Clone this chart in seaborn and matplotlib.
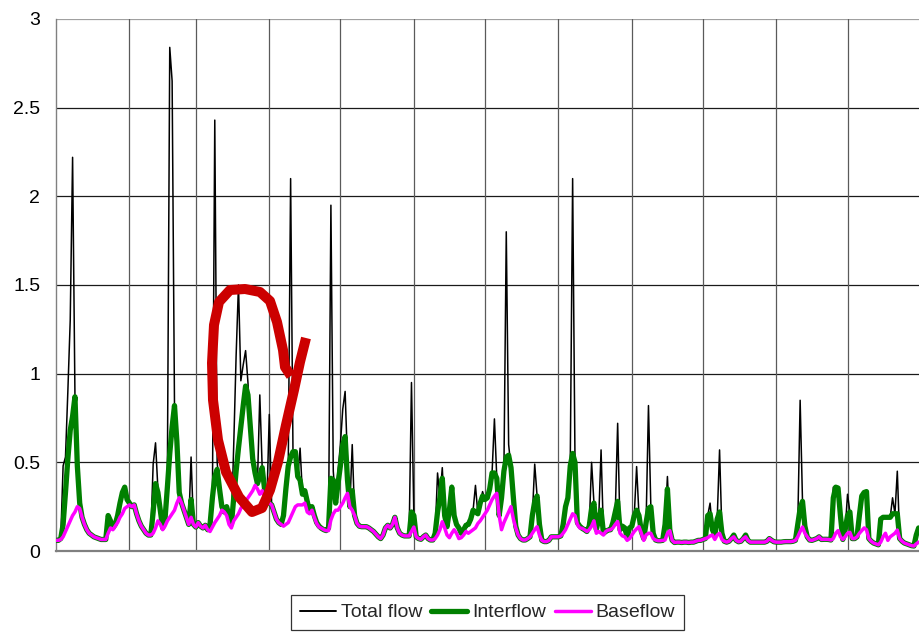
import matplotlib
matplotlib.use("Agg")
import matplotlib.pyplot as plt
import matplotlib.dates as mdates
from matplotlib.lines import Line2D
import numpy as np
import pandas as pd
import seaborn as sns

# ---------------- data (daily values) ----------------
dates = pd.date_range("2001-01-01", periods=365, freq="D")

total_flow = [
    0.06, 0.06, 0.07, 0.48, 0.53, 0.90, 1.30, 2.22, 0.87, 0.48,
    0.27, 0.19, 0.15, 0.12, 0.10, 0.09, 0.08, 0.075, 0.07, 0.065,
    0.065, 0.065, 0.20, 0.17, 0.13, 0.15, 0.20, 0.27, 0.33, 0.36,
    0.29, 0.27, 0.25, 0.26, 0.21, 0.17, 0.14, 0.12, 0.10, 0.09,
    0.09, 0.49, 0.61, 0.35, 0.23, 0.13, 0.18, 0.45, 2.84, 2.65,
    0.82, 0.62, 0.33, 0.27, 0.23, 0.19, 0.15, 0.53, 0.15, 0.135,
    0.16, 0.14, 0.13, 0.145, 0.12, 0.15, 0.30, 2.43, 0.50, 0.35,
    0.25, 0.22, 0.25, 0.20, 0.15, 0.60, 1.10, 1.50, 0.96, 1.05,
    1.13, 0.95, 0.70, 0.52, 0.44, 0.38, 0.88, 0.47, 0.35, 0.29,
    0.77, 0.26, 0.22, 0.18, 0.16, 0.15, 0.20, 0.35, 0.48, 2.10,
    0.56, 0.56, 0.42, 0.58, 0.32, 0.34, 0.28, 0.22, 0.25, 0.20,
    0.16, 0.14, 0.128, 0.12, 0.115, 0.13, 1.95, 0.45, 0.27, 0.45,
    0.60, 0.80, 0.90, 0.50, 0.25, 0.60, 0.20, 0.156, 0.14, 0.137,
    0.137, 0.137, 0.13, 0.12, 0.11, 0.095, 0.08, 0.07, 0.09, 0.13,
    0.145, 0.13, 0.15, 0.19, 0.13, 0.10, 0.09, 0.085, 0.085, 0.085,
    0.95, 0.20, 0.08, 0.07, 0.066, 0.08, 0.09, 0.07, 0.062, 0.062,
    0.10, 0.44, 0.30, 0.47, 0.20, 0.137, 0.23, 0.37, 0.20, 0.15,
    0.13, 0.10, 0.12, 0.145, 0.15, 0.18, 0.23, 0.37, 0.21, 0.27,
    0.335, 0.29, 0.30, 0.35, 0.44, 0.745, 0.41, 0.20, 0.30, 0.45,
    1.80, 0.60, 0.47, 0.30, 0.14, 0.09, 0.07, 0.062, 0.062, 0.07,
    0.08, 0.20, 0.49, 0.31, 0.15, 0.06, 0.053, 0.053, 0.06, 0.08,
    0.08, 0.08, 0.08, 0.085, 0.15, 0.25, 0.30, 0.50, 2.10, 0.50,
    0.16, 0.14, 0.128, 0.12, 0.11, 0.14, 0.50, 0.27, 0.12, 0.18,
    0.57, 0.10, 0.11, 0.118, 0.12, 0.16, 0.22, 0.72, 0.12, 0.14,
    0.13, 0.08, 0.13, 0.14, 0.20, 0.476, 0.20, 0.11, 0.07, 0.16,
    0.82, 0.25, 0.10, 0.062, 0.058, 0.058, 0.06, 0.15, 0.42, 0.12,
    0.06, 0.048, 0.05, 0.05, 0.048, 0.05, 0.05, 0.048, 0.05, 0.05,
    0.055, 0.06, 0.06, 0.065, 0.07, 0.20, 0.27, 0.12, 0.09, 0.18,
    0.57, 0.10, 0.055, 0.05, 0.055, 0.07, 0.09, 0.06, 0.052, 0.055,
    0.07, 0.09, 0.06, 0.05, 0.05, 0.05, 0.05, 0.05, 0.05, 0.05,
    0.055, 0.07, 0.06, 0.052, 0.05, 0.05, 0.05, 0.052, 0.053, 0.053,
    0.053, 0.055, 0.06, 0.15, 0.85, 0.28, 0.14, 0.08, 0.062, 0.06,
    0.065, 0.07, 0.08, 0.065, 0.066, 0.066, 0.065, 0.062, 0.36, 0.36,
    0.355, 0.20, 0.065, 0.12, 0.32, 0.22, 0.07, 0.07, 0.08, 0.20,
    0.32, 0.33, 0.335, 0.07, 0.055, 0.045, 0.04, 0.035, 0.18, 0.19,
    0.19, 0.19, 0.19, 0.30, 0.21, 0.45, 0.07, 0.055, 0.045, 0.04,
    0.035, 0.03, 0.028, 0.09, 0.13,
]

interflow = [
    0.06, 0.06, 0.07, 0.15, 0.33, 0.52, 0.68, 0.76, 0.87, 0.48,
    0.27, 0.19, 0.15, 0.12, 0.10, 0.09, 0.08, 0.075, 0.07, 0.065,
    0.065, 0.065, 0.20, 0.17, 0.13, 0.15, 0.20, 0.27, 0.33, 0.36,
    0.29, 0.27, 0.25, 0.26, 0.21, 0.17, 0.14, 0.12, 0.10, 0.09,
    0.09, 0.22, 0.38, 0.33, 0.23, 0.13, 0.18, 0.36, 0.55, 0.70,
    0.82, 0.62, 0.33, 0.27, 0.23, 0.19, 0.15, 0.29, 0.15, 0.135,
    0.16, 0.14, 0.13, 0.145, 0.12, 0.15, 0.30, 0.42, 0.46, 0.35,
    0.25, 0.22, 0.25, 0.20, 0.15, 0.30, 0.45, 0.58, 0.70, 0.82,
    0.93, 0.88, 0.70, 0.52, 0.44, 0.38, 0.42, 0.47, 0.35, 0.29,
    0.27, 0.26, 0.22, 0.18, 0.16, 0.15, 0.20, 0.35, 0.48, 0.53,
    0.56, 0.56, 0.42, 0.40, 0.32, 0.34, 0.28, 0.22, 0.25, 0.20,
    0.16, 0.14, 0.128, 0.12, 0.115, 0.13, 0.41, 0.40, 0.27, 0.38,
    0.48, 0.60, 0.645, 0.40, 0.25, 0.34, 0.20, 0.156, 0.14, 0.137,
    0.137, 0.137, 0.13, 0.12, 0.11, 0.095, 0.08, 0.07, 0.09, 0.13,
    0.145, 0.13, 0.15, 0.19, 0.13, 0.10, 0.09, 0.085, 0.085, 0.085,
    0.22, 0.20, 0.08, 0.07, 0.066, 0.08, 0.09, 0.07, 0.062, 0.062,
    0.10, 0.22, 0.30, 0.41, 0.20, 0.137, 0.23, 0.36, 0.20, 0.15,
    0.13, 0.10, 0.12, 0.145, 0.15, 0.18, 0.23, 0.22, 0.21, 0.27,
    0.31, 0.29, 0.30, 0.35, 0.44, 0.44, 0.41, 0.20, 0.30, 0.45,
    0.53, 0.54, 0.47, 0.30, 0.14, 0.09, 0.07, 0.062, 0.062, 0.07,
    0.08, 0.20, 0.28, 0.31, 0.15, 0.06, 0.053, 0.053, 0.06, 0.08,
    0.08, 0.08, 0.08, 0.085, 0.15, 0.25, 0.30, 0.48, 0.55, 0.50,
    0.16, 0.14, 0.128, 0.12, 0.11, 0.14, 0.24, 0.27, 0.12, 0.18,
    0.23, 0.10, 0.11, 0.118, 0.12, 0.16, 0.22, 0.28, 0.12, 0.14,
    0.13, 0.08, 0.13, 0.14, 0.20, 0.23, 0.20, 0.11, 0.07, 0.16,
    0.24, 0.25, 0.10, 0.062, 0.058, 0.058, 0.06, 0.15, 0.35, 0.12,
    0.06, 0.048, 0.05, 0.05, 0.048, 0.05, 0.05, 0.048, 0.05, 0.05,
    0.055, 0.06, 0.06, 0.065, 0.07, 0.20, 0.21, 0.12, 0.09, 0.18,
    0.22, 0.10, 0.055, 0.05, 0.055, 0.07, 0.09, 0.06, 0.052, 0.055,
    0.07, 0.09, 0.06, 0.05, 0.05, 0.05, 0.05, 0.05, 0.05, 0.05,
    0.055, 0.07, 0.06, 0.052, 0.05, 0.05, 0.05, 0.052, 0.053, 0.053,
    0.053, 0.055, 0.06, 0.15, 0.24, 0.28, 0.14, 0.08, 0.062, 0.06,
    0.065, 0.07, 0.08, 0.065, 0.066, 0.066, 0.065, 0.062, 0.30, 0.36,
    0.355, 0.20, 0.065, 0.12, 0.20, 0.22, 0.07, 0.07, 0.08, 0.20,
    0.31, 0.33, 0.335, 0.07, 0.055, 0.045, 0.04, 0.035, 0.18, 0.19,
    0.19, 0.19, 0.19, 0.21, 0.21, 0.21, 0.07, 0.055, 0.045, 0.04,
    0.035, 0.03, 0.028, 0.09, 0.13,
]

baseflow = [
    0.06, 0.06, 0.065, 0.08, 0.11, 0.14, 0.17, 0.20, 0.22, 0.25,
    0.24, 0.19, 0.15, 0.12, 0.10, 0.09, 0.08, 0.075, 0.07, 0.065,
    0.065, 0.065, 0.10, 0.13, 0.12, 0.14, 0.16, 0.19, 0.21, 0.24,
    0.25, 0.26, 0.25, 0.26, 0.21, 0.17, 0.14, 0.12, 0.10, 0.09,
    0.09, 0.10, 0.13, 0.17, 0.15, 0.12, 0.14, 0.17, 0.19, 0.21,
    0.23, 0.27, 0.30, 0.27, 0.23, 0.19, 0.15, 0.19, 0.15, 0.135,
    0.16, 0.14, 0.13, 0.145, 0.12, 0.11, 0.135, 0.16, 0.18, 0.20,
    0.23, 0.22, 0.20, 0.15, 0.13, 0.17, 0.19, 0.21, 0.24, 0.26,
    0.28, 0.30, 0.32, 0.34, 0.37, 0.35, 0.32, 0.34, 0.30, 0.28,
    0.27, 0.26, 0.22, 0.18, 0.16, 0.15, 0.14, 0.15, 0.16, 0.19,
    0.22, 0.25, 0.26, 0.26, 0.26, 0.27, 0.22, 0.21, 0.23, 0.19,
    0.155, 0.135, 0.128, 0.12, 0.115, 0.115, 0.175, 0.21, 0.23, 0.23,
    0.25, 0.27, 0.30, 0.325, 0.25, 0.23, 0.20, 0.156, 0.14, 0.137,
    0.137, 0.137, 0.13, 0.12, 0.11, 0.095, 0.08, 0.07, 0.09, 0.13,
    0.145, 0.13, 0.15, 0.19, 0.13, 0.10, 0.09, 0.085, 0.085, 0.085,
    0.11, 0.135, 0.08, 0.07, 0.066, 0.08, 0.09, 0.07, 0.062, 0.062,
    0.07, 0.09, 0.12, 0.165, 0.13, 0.09, 0.075, 0.10, 0.12, 0.10,
    0.07, 0.075, 0.09, 0.11, 0.10, 0.11, 0.12, 0.13, 0.155, 0.17,
    0.19, 0.21, 0.23, 0.26, 0.29, 0.31, 0.325, 0.20, 0.12, 0.16,
    0.19, 0.22, 0.25, 0.18, 0.13, 0.09, 0.07, 0.062, 0.062, 0.07,
    0.08, 0.10, 0.12, 0.137, 0.09, 0.06, 0.053, 0.053, 0.06, 0.08,
    0.08, 0.08, 0.08, 0.085, 0.10, 0.12, 0.15, 0.18, 0.21, 0.20,
    0.15, 0.13, 0.128, 0.12, 0.11, 0.12, 0.14, 0.17, 0.10, 0.11,
    0.10, 0.09, 0.11, 0.118, 0.12, 0.13, 0.15, 0.166, 0.10, 0.085,
    0.08, 0.06, 0.07, 0.09, 0.11, 0.125, 0.137, 0.10, 0.06, 0.09,
    0.10, 0.10, 0.07, 0.062, 0.058, 0.058, 0.06, 0.062, 0.10, 0.115,
    0.06, 0.048, 0.05, 0.05, 0.048, 0.05, 0.05, 0.048, 0.05, 0.05,
    0.055, 0.06, 0.06, 0.065, 0.07, 0.075, 0.085, 0.09, 0.065, 0.09,
    0.10, 0.065, 0.055, 0.05, 0.055, 0.07, 0.08, 0.06, 0.052, 0.055,
    0.07, 0.08, 0.06, 0.05, 0.05, 0.05, 0.05, 0.05, 0.05, 0.05,
    0.055, 0.07, 0.06, 0.052, 0.05, 0.05, 0.05, 0.052, 0.053, 0.053,
    0.053, 0.055, 0.06, 0.08, 0.11, 0.135, 0.10, 0.08, 0.062, 0.06,
    0.065, 0.07, 0.08, 0.065, 0.066, 0.066, 0.065, 0.062, 0.07, 0.10,
    0.115, 0.08, 0.065, 0.08, 0.10, 0.105, 0.07, 0.07, 0.08, 0.10,
    0.115, 0.13, 0.12, 0.07, 0.055, 0.045, 0.04, 0.035, 0.05, 0.08,
    0.10, 0.06, 0.08, 0.09, 0.10, 0.118, 0.07, 0.055, 0.045, 0.04,
    0.035, 0.03, 0.028, 0.04, 0.05,
]

series_names = ["Total flow", "Interflow", "Baseflow"]
y_ticks = [0, 0.5, 1, 1.5, 2, 2.5, 3]
y_tick_labels = ["0", "0.5", "1", "1.5", "2", "2.5", "3"]

assert len(total_flow) == len(interflow) == len(baseflow) == len(dates)

# ---------------- styling ----------------
sns.set_style("white")
plt.rcParams["font.family"] = ["Liberation Sans", "DejaVu Sans"]

W, H = 919, 635
fig = plt.figure(figsize=(W / 100, H / 100), dpi=100)
ax = fig.add_axes([56 / W, (H - 551) / H, 865 / W, 532 / H])

df = pd.DataFrame({"date": dates, "Total flow": total_flow,
                   "Interflow": interflow, "Baseflow": baseflow})

colors = {"Total flow": "#000000", "Interflow": "#008000", "Baseflow": "#ff00ff"}
widths = {"Total flow": 1.1, "Interflow": 3.8, "Baseflow": 2.5}
for i, name in enumerate(series_names):
    sns.lineplot(data=df, x="date", y=name, ax=ax, color=colors[name],
                 linewidth=widths[name], zorder=3 + i, legend=False,
                 solid_joinstyle="round")

ax.set_xlim(pd.Timestamp("2001-01-01"), pd.Timestamp("2002-01-01"))
ax.set_ylim(0, 3)
ax.set_xlabel("")
ax.set_ylabel("")

ax.xaxis.set_major_locator(mdates.MonthLocator())
ax.set_xticklabels([])
ax.tick_params(axis="x", length=0)
ax.set_yticks(y_ticks)
ax.set_yticklabels(y_tick_labels, fontsize=14)
ax.tick_params(axis="y", direction="out", length=4.3, width=0.8,
               color="#808080", pad=7, labelcolor="black")

ax.grid(False)
for yv in y_ticks[1:]:
    ax.axhline(yv, color="#1a1a1a" if yv < 3 else "#a0a0a0", lw=0.9, zorder=1)
for d in pd.date_range("2001-02-01", periods=11, freq="MS"):
    ax.axvline(d, color="#5a5a5a", lw=0.9, zorder=1)

for s in ["top", "right"]:
    ax.spines[s].set_visible(False)
ax.spines["left"].set_color("#808080")
ax.spines["left"].set_linewidth(1.0)
ax.spines["bottom"].set_color("#808080")
ax.spines["bottom"].set_linewidth(1.6)

# legend
handles = [Line2D([0], [0], color=colors[n], lw=widths[n] if n != "Total flow" else 1.4)
           for n in series_names]
leg = fig.legend(handles, series_names, loc="upper center",
                 bbox_to_anchor=(487.5 / W, (H - 595) / H), ncol=3,
                 frameon=True, fancybox=False, shadow=False,
                 fontsize=14, handlelength=1.85, handletextpad=0.25,
                 columnspacing=0.45, borderpad=0.45, borderaxespad=0)
leg.get_frame().set_edgecolor("#000000")
leg.get_frame().set_linewidth(0.9)

# red hand-drawn annotation loop (image pixel coordinates)
loop_px = [(291, 376), (285, 367), (283, 350), (277, 322), (270, 301),
           (260, 292), (245, 289), (230, 290), (219, 302), (214, 325),
           (212, 363), (213, 400), (218, 440), (226, 472), (239, 497),
           (252, 512), (262, 508), (270, 490), (278, 462), (286, 425),
           (294, 390), (300, 362), (306, 338)]
lx = [p[0] / W for p in loop_px]
ly = [1 - p[1] / H for p in loop_px]
fig.add_artist(Line2D(lx, ly, transform=fig.transFigure, color="#cc0000",
                      lw=7.2, solid_capstyle="butt", solid_joinstyle="round",
                      zorder=20))

fig.savefig("out.png", dpi=100)
